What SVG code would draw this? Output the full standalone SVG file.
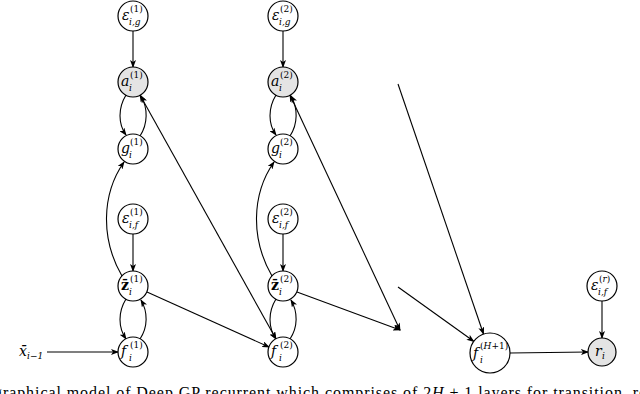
<svg xmlns="http://www.w3.org/2000/svg" width="640" height="394" viewBox="0 0 640 394">
<style>
.n{fill:#fff;stroke:#000;stroke-width:1.2}
.s{fill:#e4e4e4;stroke:#000;stroke-width:1.2}
.e{fill:none;stroke:#000;stroke-width:1.1;marker-end:url(#ah)}
.b{marker-start:url(#as)}
text{font-family:'DejaVu Serif','Liberation Serif',serif;fill:#000}
.m{font-style:italic;font-size:14px}
.p{font-size:9px}
.q{font-style:italic;font-size:9px}
.c{font-size:16px;font-family:'Liberation Serif','DejaVu Serif',serif}
</style>
<defs>
<marker id="ah" markerWidth="8" markerHeight="6" refX="7" refY="3" orient="auto" markerUnits="userSpaceOnUse"><path d="M0,0 L8,3 L0,6 L2,3 Z" fill="#000"/></marker>
<marker id="as" markerWidth="8" markerHeight="6" refX="1" refY="3" orient="auto" markerUnits="userSpaceOnUse"><path d="M8,0 L0,3 L8,6 L6,3 Z" fill="#000"/></marker>
</defs>
<g id="connectors">
<path class="e" d="M133,31 L133,67"/>
<path class="e" d="M126,95 C118,108 118,124 126,135"/>
<path class="e" d="M140,136 C148,124 148,108 141,96"/>
<path class="e" d="M122,276 C101,240 101,195 124,162"/>
<path class="e" d="M133,234 L133,271"/>
<path class="e" d="M126,299 C118,312 118,327 126,339"/>
<path class="e" d="M140,339 C148,327 148,312 141,300"/>
<path class="e" d="M47,352 L118,352"/>
<path class="e b" d="M140,95 L276,339"/>
<path class="e" d="M147,292 L269,347"/>
<path class="e" d="M283,31 L283,67"/>
<path class="e" d="M276,95 C268,108 268,124 276,135"/>
<path class="e" d="M290,136 C298,124 298,108 291,96"/>
<path class="e" d="M272,276 C251,240 251,195 274,162"/>
<path class="e" d="M283,234 L283,271"/>
<path class="e" d="M276,299 C268,312 268,327 276,339"/>
<path class="e" d="M290,339 C298,327 298,312 291,300"/>
<path class="e b" d="M290,95 L400,330"/>
<path class="e" d="M297,292 L400,330"/>
<path class="e" d="M398,84 L483.5,334"/>
<path class="e" d="M398,287 L473.7,341.3"/>
<path class="e" d="M510,353 L588,352"/>
<path class="e" d="M602,301 L602,338"/>
</g>
<g id="eps_g1"><circle class="n" cx="133" cy="16" r="15"/><text class="m" x="122" y="20">ε</text><text class="p" x="130" y="12">(1)</text><text class="q" x="129" y="25">i,g</text></g>
<g id="a1"><circle class="s" cx="133" cy="82" r="15"/><text class="m" x="121" y="86">a</text><text class="p" x="130" y="78">(1)</text><text class="q" x="129" y="91">i</text></g>
<g id="g1"><circle class="n" cx="133" cy="149" r="15"/><text class="m" x="121" y="153">g</text><text class="p" x="130" y="145">(1)</text><text class="q" x="129" y="158">i</text></g>
<g id="eps_f1"><circle class="n" cx="133" cy="219" r="15"/><text class="m" x="122" y="223">ε</text><text class="p" x="130" y="215">(1)</text><text class="q" x="129" y="228">i,f</text></g>
<g id="z1"><circle class="n" cx="133" cy="286" r="15"/><text class="m" x="121" y="290" style="font-style:normal;font-weight:bold">z̄</text><text class="p" x="130" y="282">(1)</text><text class="q" x="129" y="295">i</text></g>
<g id="f1"><circle class="n" cx="133" cy="352" r="15"/><text class="m" x="121" y="356">f</text><text class="p" x="130" y="348">(1)</text><text class="q" x="129" y="361">i</text></g>
<g id="eps_g2"><circle class="n" cx="283" cy="16" r="15"/><text class="m" x="272" y="20">ε</text><text class="p" x="280" y="12">(2)</text><text class="q" x="279" y="25">i,g</text></g>
<g id="a2"><circle class="s" cx="283" cy="82" r="15"/><text class="m" x="271" y="86">a</text><text class="p" x="280" y="78">(2)</text><text class="q" x="279" y="91">i</text></g>
<g id="g2"><circle class="n" cx="283" cy="149" r="15"/><text class="m" x="271" y="153">g</text><text class="p" x="280" y="145">(2)</text><text class="q" x="279" y="158">i</text></g>
<g id="eps_f2"><circle class="n" cx="283" cy="219" r="15"/><text class="m" x="272" y="223">ε</text><text class="p" x="280" y="215">(2)</text><text class="q" x="279" y="228">i,f</text></g>
<g id="z2"><circle class="n" cx="283" cy="286" r="15"/><text class="m" x="271" y="290" style="font-style:normal;font-weight:bold">z̄</text><text class="p" x="280" y="282">(2)</text><text class="q" x="279" y="295">i</text></g>
<g id="f2"><circle class="n" cx="283" cy="352" r="15"/><text class="m" x="271" y="356">f</text><text class="p" x="280" y="348">(2)</text><text class="q" x="279" y="361">i</text></g>
<g id="fH"><circle class="n" cx="490" cy="353" r="20"/><text class="m" x="473" y="358">f</text><text class="p" x="480" y="349">(<tspan font-style="italic">H</tspan>+1)</text><text class="q" x="480" y="363">i</text></g>
<g id="eps_r"><circle class="n" cx="602" cy="286" r="15"/><text class="m" x="591" y="290">ε</text><text class="p" x="599" y="282">(<tspan font-style="italic">r</tspan>)</text><text class="q" x="598" y="295">i,f</text></g>
<g id="r"><circle class="s" cx="602" cy="352" r="14"/><text class="m" x="595" y="356">r</text><text class="q" x="602" y="359">i</text></g>
<g id="x"><text class="m" x="19" y="356">x̄</text><text class="q" x="27" y="359">i−1</text></g>
<text class="c" x="-6" y="398" textLength="652" lengthAdjust="spacing">graphical model of Deep GP recurrent which comprises of 2<tspan font-style="italic">H</tspan> + 1 layers for transition, re</text>
</svg>
